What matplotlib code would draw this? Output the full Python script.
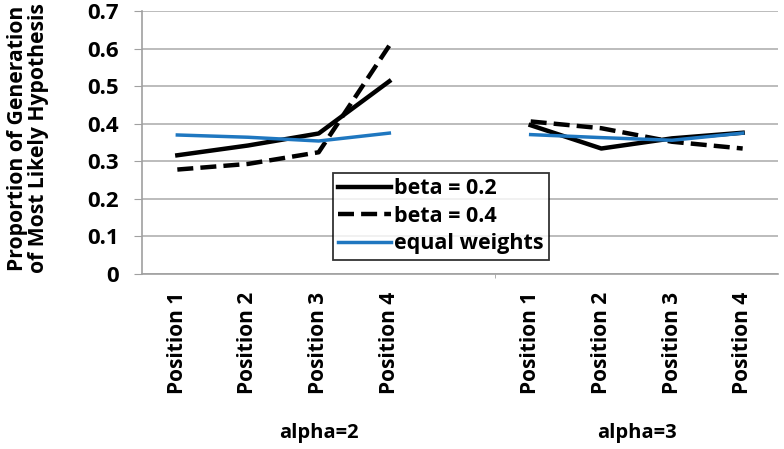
import matplotlib
matplotlib.use("Agg")
import matplotlib.pyplot as plt
import numpy as np

# category labels (two groups of four positions)
positions = ["Position 1", "Position 2", "Position 3", "Position 4"]
groups = ["alpha=2", "alpha=3"]

# values, per group
beta02_a2 = [0.316, 0.342, 0.374, 0.513]
beta02_a3 = [0.396, 0.334, 0.361, 0.376]
beta04_a2 = [0.278, 0.293, 0.324, 0.608]
beta04_a3 = [0.406, 0.388, 0.352, 0.334]
equal_a2 = [0.370, 0.364, 0.354, 0.375]
equal_a3 = [0.371, 0.363, 0.356, 0.375]

plt.rcParams['font.family'] = ['Open Sans', 'DejaVu Sans']
plt.rcParams['font.weight'] = 'bold'

fig = plt.figure(figsize=(7.84, 4.49), dpi=100)
ax = fig.add_axes([142/784, 1-274/449, (778-142)/784, (274-11)/449])

# blank slot between the groups, like the excel chart
x = np.arange(9)
gap = [np.nan]

def series(a, b):
    return np.array(a + gap + b)

ax.plot(x, series(beta02_a2, beta02_a3), color="black", lw=3.2,
        label="beta = 0.2")
ax.plot(x, series(beta04_a2, beta04_a3), color="black", lw=3.2,
        ls=(0, (3.6, 1.6)), label="beta = 0.4")
ax.plot(x, series(equal_a2, equal_a3), color="#1f77c0", lw=2.5,
        label="equal weights")

ax.set_xlim(-0.5, 8.5)
ax.set_ylim(0, 0.7)
ax.set_yticks(np.arange(0, 0.71, 0.1))
ax.set_yticklabels(["0"] + ["%.1f" % v for v in np.arange(0.1, 0.71, 0.1)],
                   fontsize=16, fontweight="bold")
ax.yaxis.grid(True, color="#b0b0b0", lw=1.2)
ax.set_axisbelow(True)

ax.set_xticks([0, 1, 2, 3, 5, 6, 7, 8])
ax.set_xticklabels(positions + positions, rotation=90, fontsize=15,
                   fontweight="bold")
ax.set_xticks([4.5], minor=True)
ax.tick_params(axis="x", which="major", length=0, pad=13)
ax.tick_params(axis="x", which="minor", length=3, color="#a0a0a0")
ax.tick_params(axis="y", length=6, color="#a0a0a0", pad=11)

for s in ["top", "right"]:
    ax.spines[s].set_visible(False)
ax.spines["left"].set_color("#a0a0a0")
ax.spines["bottom"].set_color("#a0a0a0")
ax.spines["left"].set_linewidth(1.2)
ax.spines["bottom"].set_linewidth(1.2)

# group labels under the position labels
gy = -(433 - 274) / 263
ax.text(2, gy, groups[0], transform=ax.get_xaxis_transform(),
        ha="center", va="center", fontsize=14.5, fontweight="bold")
ax.text(6.5, gy, groups[1], transform=ax.get_xaxis_transform(),
        ha="center", va="center", fontsize=14.5, fontweight="bold")

ax.set_ylabel("Proportion of Generation\nof Most Likely Hypothesis",
              fontsize=15.2, fontweight="bold", linespacing=0.95)
ax.yaxis.set_label_coords(-0.147, 0.515)

leg = ax.legend(loc="upper left", bbox_to_anchor=(333/784, 1-173/449),
                bbox_transform=fig.transFigure, frameon=True, fancybox=False,
                fontsize=15.5, handlelength=2.45, handletextpad=0.15,
                borderpad=0.25, labelspacing=0.3, borderaxespad=0)
leg.get_frame().set_edgecolor("black")
leg.get_frame().set_linewidth(1.3)
for t in leg.get_texts():
    t.set_fontweight("bold")

fig.savefig("out.png", dpi=100)
